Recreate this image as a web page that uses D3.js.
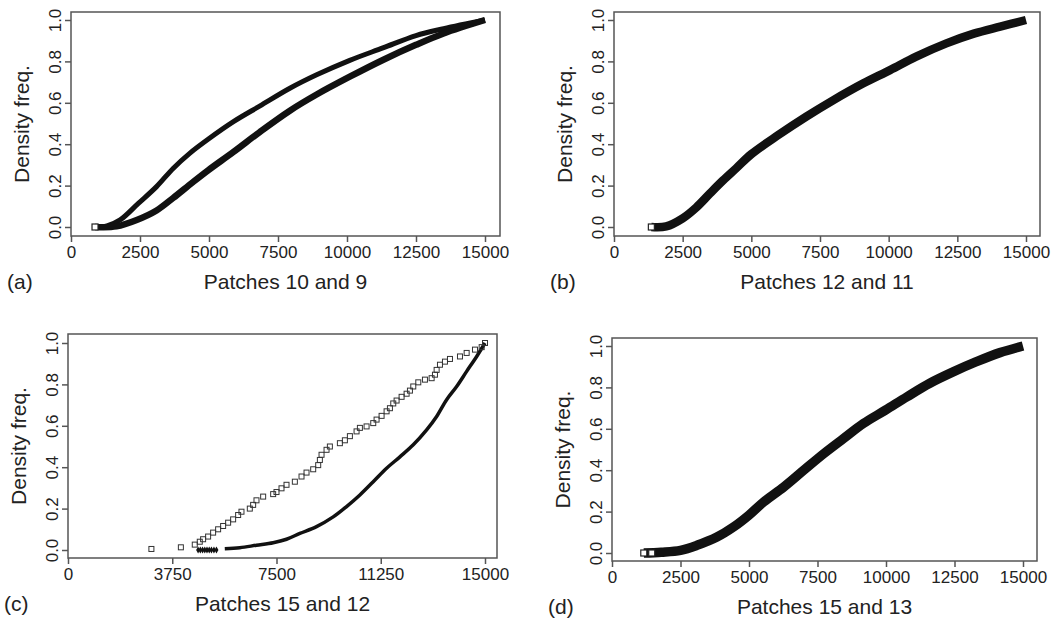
<!DOCTYPE html>
<html lang="en">
<head>
<meta charset="UTF-8">
<title>Density freq. panels</title>
<script src="https://d3js.org/d3.v7.min.js"></script>
<style>
body { margin: 0; background: #fff; }
svg { display: block; }
text { font-family: "Liberation Sans", Arial, sans-serif; fill: #222; }
</style>
</head>
<body>
<script>
// ---- data ----
const ticksAB = [0, 2500, 5000, 7500, 10000, 12500, 15000]
const ticksC = [0, 3750, 7500, 11250, 15000]
const yTicks = [0, 0.2, 0.4, 0.6, 0.8, 1.0]

// (a) patches 10 and 9
const aUpperX = [870, 1300, 1780, 2440, 3100, 3700, 4300, 4980, 5900, 6850, 7930, 8900, 10100, 11300, 12500, 13500, 15000]
const aUpperY = [0, 0.005, 0.034, 0.114, 0.195, 0.283, 0.356, 0.425, 0.51, 0.585, 0.67, 0.735, 0.805, 0.865, 0.925, 0.958, 1.0]
const aLowerX = [870, 1650, 2380, 3100, 3700, 4400, 4980, 5900, 6850, 7930, 8900, 10100, 11300, 12500, 13500, 15000]
const aLowerY = [0, 0.003, 0.034, 0.08, 0.14, 0.215, 0.275, 0.364, 0.46, 0.562, 0.64, 0.726, 0.807, 0.88, 0.935, 1.0]

// (b) patches 12 and 11
const bX = [1360, 1900, 2500, 3000, 3500, 3970, 4460, 5000, 5980, 7000, 7990, 9080, 10050, 11000, 12100, 13100, 14060, 15000]
const bY = [0, 0.003, 0.042, 0.095, 0.163, 0.225, 0.285, 0.352, 0.444, 0.533, 0.613, 0.694, 0.758, 0.823, 0.887, 0.934, 0.968, 1.0]

// (c) patches 15 and 12
const cOpenX = [3000, 4060, 4560, 4740, 4860, 5040, 5220, 5400, 5580, 5760, 5940, 6120, 6240, 6540, 6660, 6780, 7020, 7380, 7500, 7680, 7860, 8160, 8400, 8580, 8820, 9000, 9060, 9120, 9300, 9420, 9780, 9960, 10140, 10380, 10500, 10740, 10980, 11100, 11280, 11460, 11580, 11700, 11820, 12000, 12180, 12300, 12420, 12600, 12840, 13080, 13200, 13260, 13380, 13560, 13740, 14100, 14340, 14640, 14880, 15000]
const cOpenY = [0.005, 0.013, 0.026, 0.04, 0.052, 0.065, 0.084, 0.1, 0.116, 0.132, 0.148, 0.169, 0.185, 0.2, 0.218, 0.24, 0.258, 0.27, 0.28, 0.298, 0.315, 0.33, 0.355, 0.374, 0.39, 0.41, 0.435, 0.46, 0.484, 0.5, 0.516, 0.53, 0.55, 0.573, 0.59, 0.597, 0.613, 0.63, 0.648, 0.67, 0.685, 0.708, 0.722, 0.74, 0.755, 0.77, 0.79, 0.81, 0.823, 0.83, 0.847, 0.87, 0.895, 0.91, 0.923, 0.935, 0.952, 0.968, 0.98, 1.0]
const cClusterX = [4680, 4760, 4840, 4920, 5000, 5080, 5160, 5250, 5340]
const cSolidX = [5640, 6180, 6780, 7380, 7860, 8340, 8940, 9540, 10020, 10500, 10980, 11460, 11940, 12420, 12900, 13260, 13620, 13980, 14340, 14700, 15000]
const cSolidY = [0.006, 0.011, 0.023, 0.035, 0.052, 0.08, 0.113, 0.16, 0.21, 0.266, 0.33, 0.395, 0.45, 0.508, 0.58, 0.645, 0.726, 0.79, 0.863, 0.935, 1.0]

// (d) patches 15 and 13
const dX = [1160, 1800, 2500, 3100, 3830, 4440, 4990, 5540, 6270, 7000, 7730, 8450, 9180, 9980, 10770, 11600, 12470, 13300, 14160, 15000]
const dY = [0, 0.004, 0.013, 0.037, 0.077, 0.126, 0.182, 0.247, 0.319, 0.4, 0.48, 0.553, 0.626, 0.69, 0.755, 0.82, 0.876, 0.924, 0.968, 1.0]

const svg = d3.select("body").append("svg").attr("width", 1063).attr("height", 621)

const panels = [
  {tag: "(a)", title: "Patches 10 and 9", box: [71, 12, 500, 236], xr: [71, 485], yr: [227, 20], ticks: ticksAB,
   lines: [{x: aUpperX, y: aUpperY, w: 5}, {x: aLowerX, y: aLowerY, w: 6.5}], starts: [[870, 0]]},
  {tag: "(b)", title: "Patches 12 and 11", box: [614, 12, 1040, 236], xr: [614, 1026], yr: [227, 20], ticks: ticksAB,
   lines: [{x: bX, y: bY, w: 8.5}], starts: [[1360, 0]]},
  {tag: "(c)", title: "Patches 15 and 12", box: [68, 334, 497, 558], xr: [68, 485], yr: [550, 343], ticks: ticksC,
   lines: [{x: cSolidX, y: cSolidY, w: 3.5}], starts: []},
  {tag: "(d)", title: "Patches 15 and 13", box: [612, 338, 1037, 561], xr: [612, 1023], yr: [553, 346], ticks: ticksAB,
   lines: [{x: dX, y: dY, w: 9.5}], starts: [[1160, 0], [1450, 0]]}
]

panels.forEach(p => {
  const g = svg.append("g")
  const x = d3.scaleLinear().domain([0, 15000]).range(p.xr)
  const y = d3.scaleLinear().domain([0, 1]).range(p.yr)
  const [l, t, r, b] = p.box

  g.append("rect").attr("x", l).attr("y", t).attr("width", r - l).attr("height", b - t)
    .attr("fill", "none").attr("stroke", "#555").attr("stroke-width", 1.5)

  const xa = g.append("g").attr("transform", `translate(0,${b})`)
    .call(d3.axisBottom(x).tickValues(p.ticks).tickFormat(d3.format("d")).tickSize(6).tickPadding(4))
  xa.select(".domain").remove()
  xa.selectAll("line").attr("stroke", "#555").attr("stroke-width", 1.5)
  xa.selectAll("text").attr("font-size", 17).attr("fill", "#222")

  const ya = g.append("g").attr("transform", `translate(${l},0)`)
    .call(d3.axisLeft(y).tickValues(yTicks).tickFormat(d3.format(".1f")).tickSize(6))
  ya.select(".domain").remove()
  ya.selectAll("line").attr("stroke", "#555").attr("stroke-width", 1.5)
  ya.selectAll("text").attr("font-size", 17).attr("fill", "#222")
    .attr("x", null).attr("dy", null).attr("text-anchor", "middle")
    .attr("transform", "translate(-10,0) rotate(-90)")

  g.append("text").attr("font-size", 21).attr("text-anchor", "middle")
    .attr("transform", `translate(${l - 42},${(t + b) / 2}) rotate(-90)`)
    .text("Density freq.")
  g.append("text").attr("font-size", 21).attr("text-anchor", "middle")
    .attr("x", (l + r) / 2).attr("y", b + 53).text(p.title)
  g.append("text").attr("font-size", 21).attr("x", l - 64).attr("y", b + 53).text(p.tag)

  const line = d3.line().curve(d3.curveCatmullRom.alpha(0.5))
  p.lines.forEach(s => {
    const pts = s.x.map((v, k) => [x(v), y(s.y[k])])
    g.append("path").attr("d", line(pts)).attr("fill", "none")
      .attr("stroke", "#111").attr("stroke-width", s.w).attr("stroke-linejoin", "round")
  })

  p.starts.forEach(s => {
    g.append("rect").attr("x", x(s[0]) - 3).attr("y", y(s[1]) - 3).attr("width", 6).attr("height", 6)
      .attr("fill", "#fff").attr("stroke", "#222").attr("stroke-width", 1.2)
  })

  if (p.tag === "(c)") {
    // small filled diamonds at the start of the solid series
    g.selectAll(".dia").data(cClusterX).enter().append("path")
      .attr("d", d3.symbol(d3.symbolDiamond, 14))
      .attr("transform", d => `translate(${x(d)},${y(0)})`)
      .attr("fill", "#111")
    g.selectAll(".open").data(cOpenX).enter().append("rect")
      .attr("x", d => x(d) - 2.5).attr("y", (d, k) => y(cOpenY[k]) - 2.5)
      .attr("width", 5).attr("height", 5)
      .attr("fill", "none").attr("stroke", "#333").attr("stroke-width", 1)
  }
})
</script>
</body>
</html>
